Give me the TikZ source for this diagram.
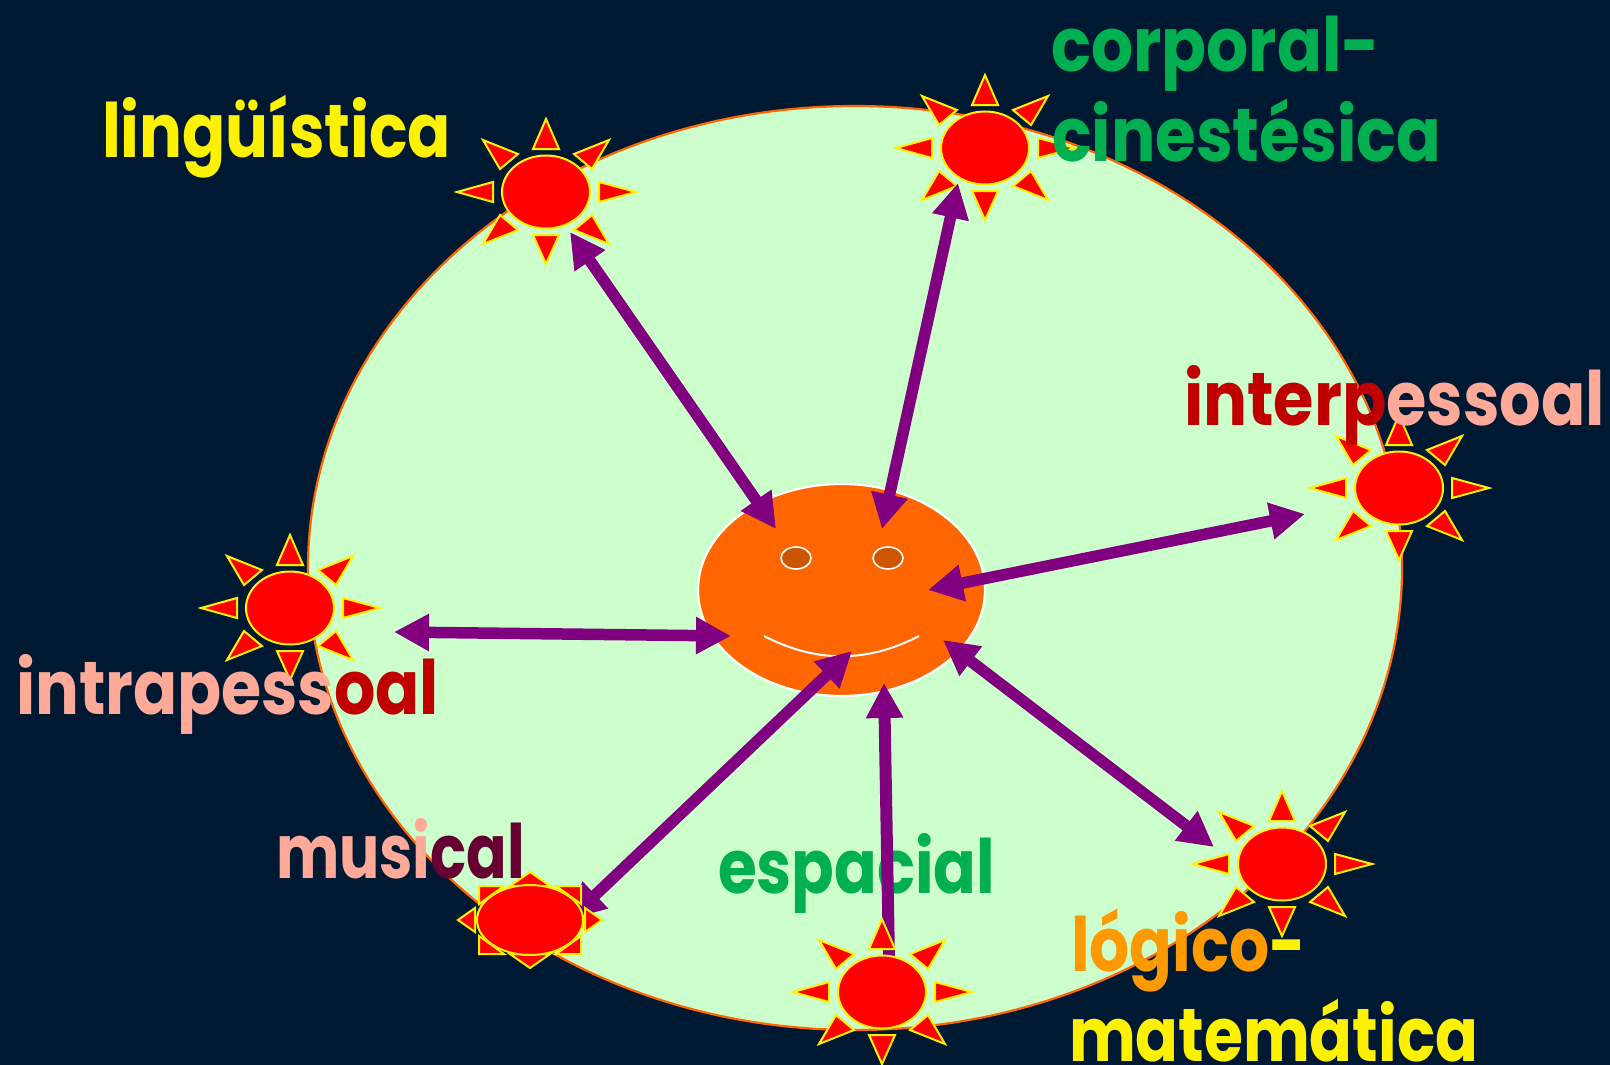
\documentclass[tikz,border=0pt]{standalone}
\usepackage{graphicx}
\usepackage{fontspec}
\newfontfamily\lblfont{Poppins}
\usetikzlibrary{arrows.meta,shapes.geometric}
\definecolor{bgblue}{HTML}{001933}
\definecolor{mint}{HTML}{CCFFCC}
\definecolor{faceorange}{HTML}{FF6600}
\definecolor{eyebrown}{HTML}{CC5500}
\definecolor{pinkish}{HTML}{FFA999}
\definecolor{darkred}{HTML}{C00000}
\definecolor{wine}{HTML}{660033}
\definecolor{txtgreen}{HTML}{00B050}
\definecolor{txtorange}{HTML}{FF9900}
\definecolor{arrowpurple}{HTML}{800080}
\newcommand{\fitlabel}[2]{\resizebox{#1pt}{\height}{\lblfont\bfseries\fontsize{75}{90}\selectfont #2}}
\tikzset{
  ray/.style={draw=yellow,fill=red,line width=2pt,line join=miter},
  suncore/.style={ellipse,draw=yellow,fill=red,line width=2pt,inner sep=0pt,outer sep=0pt},
  dblarrow/.style={draw=arrowpurple,line width=11.5pt,{Triangle[length=35pt,width=35pt,fill=arrowpurple]}-{Triangle[length=35pt,width=35pt,fill=arrowpurple]}},
  onearrow/.style={draw=arrowpurple,line width=12pt,-{Triangle[length=35pt,width=35pt,fill=arrowpurple]}},
  lbl/.style={anchor=base west,inner sep=0pt,outer sep=0pt},
  eye/.style={ellipse,draw=white,fill=eyebrown,line width=1.6pt,minimum width=30pt,minimum height=22pt,inner sep=0pt},
  pics/sun/.style={code={
    \fill[ray] (0,-73)--(13,-43)--(-13,-43)--cycle;
    \fill[ray] (0,72)--(13,43)--(-13,43)--cycle;
    \fill[ray] (90,0)--(53,10)--(53,-10)--cycle;
    \fill[ray] (-89,0)--(-53,10)--(-53,-10)--cycle;
    \fill[ray] (63,-52)--(28,-38)--(46,-23)--cycle;
    \fill[ray] (-63,-52)--(-28,-38)--(-46,-23)--cycle;
    \fill[ray] (63,52)--(28,38)--(46,23)--cycle;
    \fill[ray] (-63,52)--(-28,38)--(-46,23)--cycle;
    \node[suncore,minimum width=88pt,minimum height=73pt] (-core) at (0,0) {};
  }},
  pics/flatsun/.style={code={
    \fill[ray] (0,-48)--(20,-34)--(-20,-34)--cycle;
    \fill[ray] (0,48)--(20,34)--(-20,34)--cycle;
    \fill[ray] (72,0)--(55,12)--(55,-12)--cycle;
    \fill[ray] (-72,0)--(-55,12)--(-55,-12)--cycle;
    \fill[ray] (51,-34)--(26,-34)--(51,-16)--cycle;
    \fill[ray] (-51,-34)--(-26,-34)--(-51,-16)--cycle;
    \fill[ray] (51,34)--(26,34)--(51,16)--cycle;
    \fill[ray] (-51,34)--(-26,34)--(-51,16)--cycle;
    \node[suncore,minimum width=106pt,minimum height=70pt] (-core) at (0,0) {};
  }}
}
\begin{document}
\begin{tikzpicture}[x=1pt,y=-1pt]
\useasboundingbox (0,0) rectangle (1610,1065);
\fill[bgblue] (0,0) rectangle (1610,1065);
\node[ellipse,draw=faceorange,fill=mint,line width=2.2pt,minimum width=1094pt,minimum height=924pt,inner sep=0pt] (field) at (855,568) {};
\node[ellipse,draw=white,fill=faceorange,line width=2.2pt,minimum width=287pt,minimum height=212pt,inner sep=0pt] (face) at (841.5,590) {};
\node[eye] (eyeL) at (796,558) {};
\node[eye] (eyeR) at (888,558) {};
\coordinate (smileA) at (764,636);
\coordinate (smileB) at (919,636);
\draw[white,line width=2pt] (smileA) .. controls (816,663) and (867,663) .. (smileB);
% arrow end points
\coordinate (fLin) at (776,529);
\coordinate (tLin) at (570,232);
\coordinate (fCor) at (882,529);
\coordinate (tCor) at (958,183);
\coordinate (fInter) at (928,590);
\coordinate (tInter) at (1305,514);
\coordinate (fIntra) at (731,636);
\coordinate (tIntra) at (394,632);
\coordinate (fMus) at (852,651);
\coordinate (tMus) at (570,919);
\coordinate (fEsp) at (884,683);
\coordinate (tEsp) at (889,960);
\coordinate (fLog) at (943,640);
\coordinate (tLog) at (1214,847);
% text beneath the vertical arrow
\node[lbl] (lEsp) at (718,893) {\fitlabel{277}{\color{txtgreen}espacial}};
% arrows beneath suns
\draw[dblarrow] (tMus) -- (fMus);
\draw[onearrow] (tEsp) -- (fEsp);
% suns
\pic (sLin) at (546,192) {sun};
\pic (sCor) at (985,148) {sun};
\pic (sInter) at (1399,488) {sun};
\pic (sLog) at (1282,864) {sun};
\pic (sEsp) at (882,992) {sun};
\pic (sIntra) at (290,608) {sun};
\pic (sMus) at (530,920) {flatsun};
% arrows above
\draw[dblarrow] (tLin) -- (fLin);
\draw[dblarrow] (tCor) -- (fCor);
\draw[dblarrow] (tInter) -- (fInter);
\draw[dblarrow] (tIntra) -- (fIntra);
\draw[dblarrow] (tLog) -- (fLog);
% labels
\node[lbl] (lLin) at (102,157) {\fitlabel{349}{\color{yellow}lingüística}};
\node[lbl] (lCor1) at (1051,72) {\fitlabel{329}{\color{txtgreen}corporal-}};
\node[lbl] (lCor2) at (1052,161) {\fitlabel{389}{\color{txtgreen}cinestésica}};
\node[lbl] (lInter) at (1184,425) {\fitlabel{421}{\textcolor{darkred}{interp}\textcolor{pinkish}{essoal}}};
\node[lbl] (lIntra) at (16,714) {\fitlabel{423}{\textcolor{pinkish}{intrapess}\textcolor{darkred}{oal}}};
\node[lbl] (lMus) at (276,878) {\fitlabel{249}{\textcolor{pinkish}{musi}\textcolor{wine}{cal}}};
\node[lbl] (lLog1) at (1071,971) {\fitlabel{235}{\textcolor{txtorange}{lógico}\textcolor{yellow}{-}}};
\node[lbl] (lLog2) at (1069,1061) {\fitlabel{409}{\color{yellow}matemática}};
\end{tikzpicture}
\end{document}
